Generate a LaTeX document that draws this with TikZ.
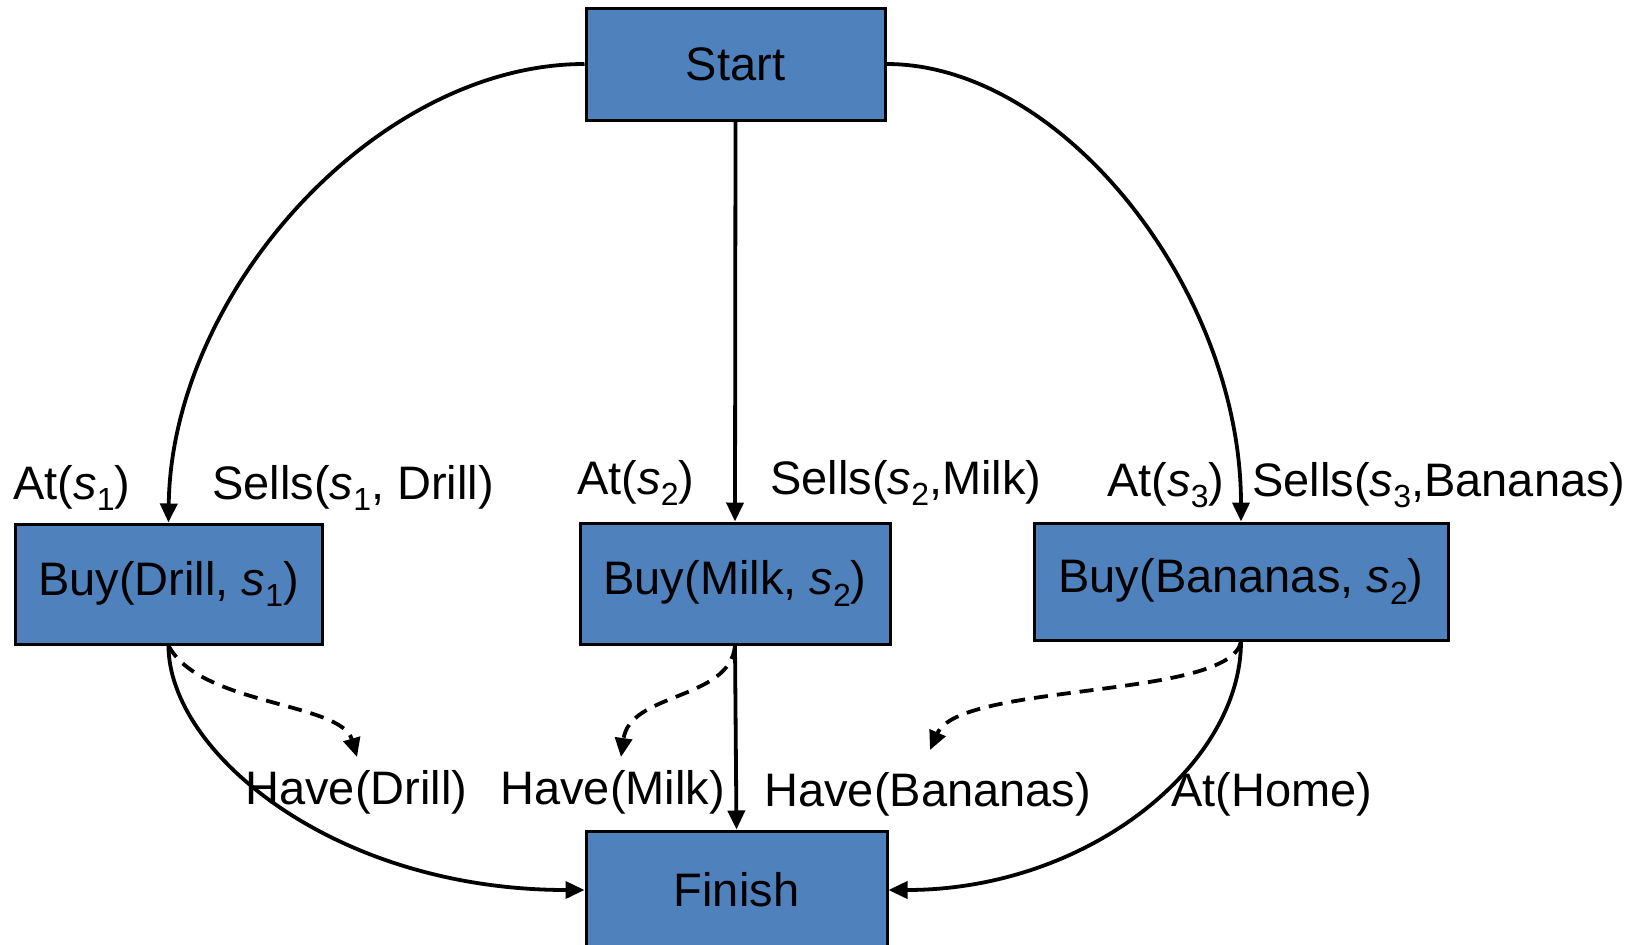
\documentclass[tikz,border=0pt]{standalone}
\usepackage{fontspec}
\setmainfont{Liberation Sans}
\usetikzlibrary{arrows.meta}

\definecolor{boxblue}{HTML}{4F81BD}
\newcommand{\sv}[1]{\textit{s}\raisebox{-0.45ex}{\fontsize{16pt}{18pt}\selectfont #1}}

\tikzset{
  action/.style={draw=black, fill=boxblue, line width=1.5pt, inner sep=0pt,
                 align=center, font=\fontsize{23.5pt}{28pt}\selectfont},
  cond/.style={inner sep=0pt, anchor=base west, font=\fontsize{23.5pt}{28pt}\selectfont},
  link/.style={line width=1.9pt, -{Triangle[length=9.5pt,width=8.5pt]}},
  threat/.style={link, dash pattern=on 7pt off 4.5pt}
}

\begin{document}
\begin{tikzpicture}[x=0.5pt, y=-0.5pt]
  \clip (0,0) rectangle (1646,944);
  \fill[white] (0,0) rectangle (1646,944);

  % steps of the plan
  \node[action, minimum width=149.5pt, minimum height=56pt]  (start)   at (735.5,64)  {Start};
  \node[action, minimum width=153.5pt, minimum height=60pt]  (drill)   at (168.5,584) {Buy(Drill, \sv{1})};
  \node[action, minimum width=155pt,   minimum height=60.5pt](milk)    at (735,583.5) {Buy(Milk, \sv{2})};
  \node[action, minimum width=207pt,   minimum height=58.5pt](bananas) at (1241,581.5) {Buy(Bananas, \sv{2})};
  \node[action, minimum width=150.5pt, minimum height=59pt]  (finish)  at (736.5,890) {Finish};

  % preconditions and effects
  \node[cond] (at1)    at (13,499)   {At(\sv{1})};
  \node[cond] (sells1) at (212,499)  {Sells(\sv{1}, Drill)};
  \node[cond] (at2)    at (577,494)  {At(\sv{2})};
  \node[cond] (sells2) at (770,494)  {Sells(\sv{2},Milk)};
  \node[cond] (at3)    at (1107,496) {At(\sv{3})};
  \node[cond] (sells3) at (1252,496) {Sells(\sv{3},Bananas)};
  \node[cond] (hdrill) at (245,804)  {Have(Drill)};
  \node[cond] (hmilk)  at (500,804)  {Have(Milk)};
  \node[cond] (hban)   at (764,806)  {Have(Bananas)};
  \node[cond] (athome) at (1171,806) {At(Home)};

  % ends of the dashed links
  \coordinate (td) at (357,757);
  \coordinate (tm) at (621,757);
  \coordinate (tb) at (930,750);

  % ordering links
  \draw[link] (start.west) .. controls +(-208,0) and +(3,-230) .. (drill.north);
  \draw[link] (start.south) -- (milk.north);
  \draw[link] (start.east) .. controls +(177,0) and +(0,-230) .. (bananas.north);
  \draw[link] (drill.south) .. controls +(0,107) and +(-250,0) .. (finish.west);
  \draw[link] (milk.south) -- (finish.north);
  \draw[link] (bananas.south) .. controls +(0,123) and +(200,0) .. (finish.east);

  % causal links to the effects
  \draw[threat] (drill.south) .. controls +(31,60) and +(-16,-55) .. (td);
  \draw[threat] (milk.south) .. controls +(-5,55) and +(9,-65) .. (tm);
  \draw[threat] (bananas.south) .. controls +(-11,58) and +(30,-68) .. (tb);
\end{tikzpicture}
\end{document}
